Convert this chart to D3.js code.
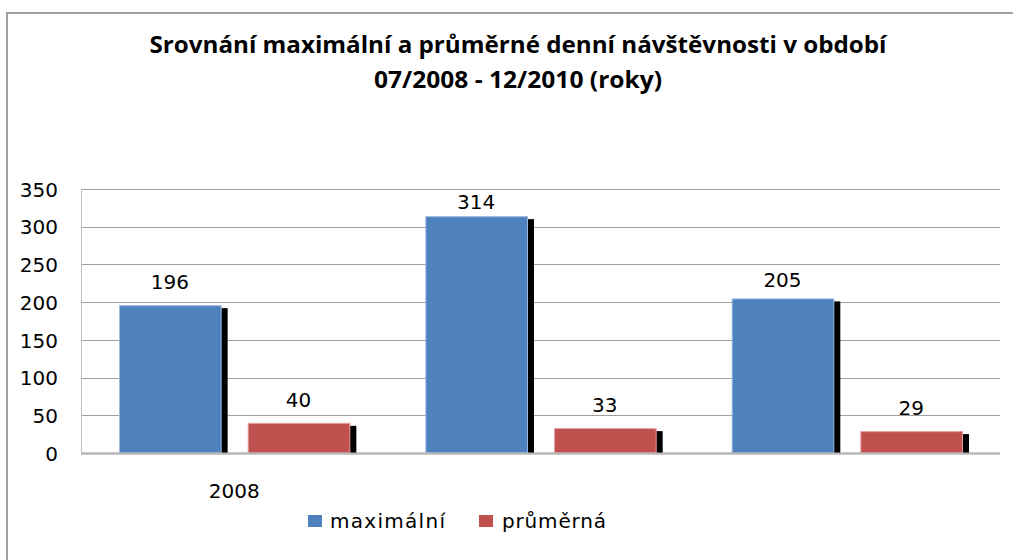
<!DOCTYPE html>
<html><head><meta charset="utf-8">
<script src="https://cdn.jsdelivr.net/npm/d3@7"></script>
<style>body{margin:0;background:#fff}svg{display:block}</style>
</head><body>
<svg id="c" width="1013" height="560"></svg>
<script>
const categories = ["2008", "", ""];
const maxValues = [196, 314, 205];
const avgValues = [40, 33, 29];
const seriesNames = ["maximální", "průměrná"];
const yTicks = [0, 50, 100, 150, 200, 250, 300, 350];
const titleLines = ["Srovnání maximální a průměrné denní návštěvnosti v období", "07/2008 - 12/2010 (roky)"];

const svg = d3.select("#c");
const W = 1013, H = 560;
const m = {l: 81, r: 1000, t: 189, b: 453};
const colors = ["#4F81BD", "#C0504D"];
const edges = ["#9dbbe0", "#e39f9d"];
const font = "'DejaVu Sans', Verdana, sans-serif";
// label gap above bar (layout only), per series per category
const labelGap = [[16, 7, 11], [16, 16, 16]];

// outer border
svg.append("path").attr("d", `M7,${H} V13 H${W}`).attr("fill", "none").attr("stroke", "#a0a0a0").attr("stroke-width", 2);

// title
svg.selectAll("text.title").data(titleLines).join("text")
  .attr("class", "title")
  .attr("x", 518).attr("y", (d, i) => 53 + i * 35)
  .attr("text-anchor", "middle")
  .attr("font-family", "'Open Sans', sans-serif").attr("font-weight", "bold").attr("font-size", 24)
  .attr("textLength", (d, i) => i === 0 ? 737 : 288).attr("lengthAdjust", "spacingAndGlyphs")
  .text(d => d);

const y = d3.scaleLinear().domain([0, 350]).range([m.b, m.t]);
const x0 = d3.scaleBand().domain(d3.range(categories.length)).range([m.l, m.r]).paddingInner(0).paddingOuter(0);
const x1 = d3.scaleBand().domain([0, 1]).range([38, x0.bandwidth() - 38]).paddingInner(0.21);

// gridlines
svg.append("g").selectAll("line").data(yTicks).join("line")
  .attr("x1", m.l).attr("x2", m.r)
  .attr("y1", d => Math.round(y(d)) + 0.5).attr("y2", d => Math.round(y(d)) + 0.5)
  .attr("stroke", d => d === 0 ? "#b8b8b8" : "#a0a0a0").attr("stroke-width", d => d === 0 ? 2 : 1);
svg.append("line").attr("x1", m.l + 0.5).attr("x2", m.l + 0.5).attr("y1", m.t).attr("y2", m.b)
  .attr("stroke", "#c0c0c0").attr("stroke-width", 1);

// y axis labels
const yAxis = d3.axisLeft(y).tickValues(yTicks).tickSize(0).tickPadding(0);
const ga = svg.append("g").attr("transform", `translate(58,0)`).call(yAxis);
ga.select(".domain").remove();
ga.selectAll("text").attr("font-family", font).attr("font-size", 20).attr("fill", "#000").attr("dy", "0.36em");

// bars
const series = [maxValues, avgValues];
const data = [];
categories.forEach((c, i) => series.forEach((s, j) => data.push({i, j, v: s[i]})));
const bx = d => x0(d.i) + x1(d.j);
const bw = x1.bandwidth();

svg.append("g").selectAll("rect").data(data).join("rect")
  .attr("x", d => bx(d) + 7).attr("y", d => y(d.v) + 3)
  .attr("width", bw).attr("height", d => m.b - y(d.v) - 3)
  .attr("fill", "#000");
svg.append("g").selectAll("rect").data(data).join("rect")
  .attr("x", d => bx(d) + 0.5).attr("y", d => y(d.v) + 0.5)
  .attr("width", bw).attr("height", d => m.b - y(d.v) - 0.5)
  .attr("fill", d => colors[d.j]).attr("stroke", d => edges[d.j]).attr("stroke-width", 1);
// baseline redraw
svg.append("line").attr("x1", m.l).attr("x2", m.r).attr("y1", m.b + 0.5).attr("y2", m.b + 0.5)
  .attr("stroke", "#b8b8b8").attr("stroke-width", 2);

// data labels
svg.append("g").selectAll("text").data(data).join("text")
  .attr("x", d => bx(d) + bw / 2).attr("y", d => y(d.v) - labelGap[d.j][d.i])
  .attr("text-anchor", "middle").attr("font-family", font).attr("font-size", 20)
  .text(d => d.v);

// category labels
svg.append("g").selectAll("text").data(categories).join("text")
  .attr("x", (d, i) => x0(i) + x0.bandwidth() / 2).attr("y", 498)
  .attr("text-anchor", "middle").attr("font-family", font).attr("font-size", 20)
  .text(d => d);

// legend
const legX = [308, 479], legTextX = [330, 502], legLen = [115, 104];
const lg = svg.append("g").selectAll("g").data(seriesNames).join("g");
lg.append("rect").attr("x", (d, i) => legX[i]).attr("y", 515).attr("width", 14).attr("height", 12)
  .attr("fill", (d, i) => colors[i]);
lg.append("text").attr("x", (d, i) => legTextX[i]).attr("y", 528)
  .attr("font-family", font).attr("font-size", 20)
  .attr("textLength", (d, i) => legLen[i]).attr("lengthAdjust", "spacing")
  .text(d => d);
</script>
</body></html>
